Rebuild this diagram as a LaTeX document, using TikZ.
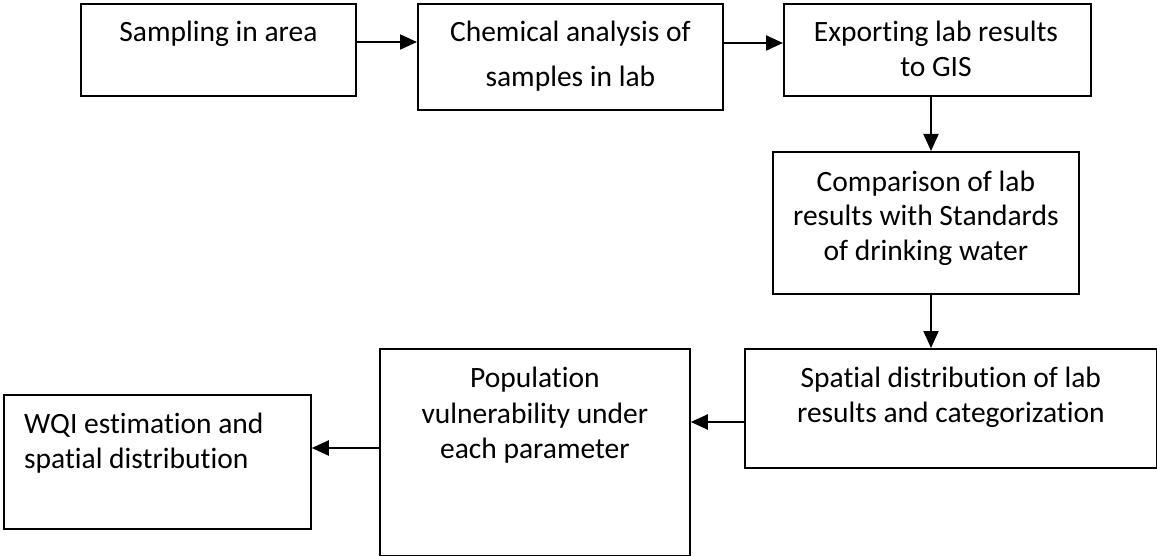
\documentclass[tikz,border=0pt]{standalone}
\usepackage{fontspec}
\setmainfont{Carlito}[Ligatures={NoCommon}]
\usetikzlibrary{arrows.meta}
\begin{document}
\begin{tikzpicture}[x=1pt,y=-1pt,
  box/.style={draw, line width=1.8pt, anchor=north west, inner sep=0pt},
  lbl/.style={anchor=base, inner sep=0pt, font=\fontsize{29.5}{35}\selectfont},
  lbll/.style={anchor=base west, inner sep=0pt, font=\fontsize{29.5}{35}\selectfont},
  arr/.style={line width=2.1pt, -{Triangle[length=17pt,width=15pt]}}]
\useasboundingbox (0,0) rectangle (1157,556);

% process boxes
\node[box, minimum width=275pt, minimum height=92pt]  (b1) at (80,3)   {};
\node[box, minimum width=305pt, minimum height=106pt] (b2) at (417,3)  {};
\node[box, minimum width=307pt, minimum height=92pt]  (b3) at (783,3)  {};
\node[box, minimum width=306pt, minimum height=142pt] (b4) at (772,151) {};
\node[box, minimum width=412pt, minimum height=119pt] (b5) at (744,348) {};
\node[box, minimum width=310pt, minimum height=207pt] (b6) at (379,348) {};
\node[box, minimum width=307pt, minimum height=134pt] (b7) at (3,394)  {};

% box texts
\node[lbl] (t1) at (b1.north |- 0,42) {Sampling in area};
\node[lbl] (t2a) at (b2.north |- 0,42) {Chemical analysis of};
\node[lbl] (t2b) at (b2.north |- 0,87) {samples in lab};
\node[lbl] (t3a) at (936,42) {Exporting lab results};
\node[lbl] (t3b) at (936,77) {to GIS};
\node[lbl] (t4a) at (b4.north |- 0,192) {Comparison of lab};
\node[lbl] (t4b) at (b4.north |- 0,226) {results with Standards};
\node[lbl] (t4c) at (b4.north |- 0,261) {of drinking water};
\node[lbl] (t5a) at (b5.north |- 0,387) {Spatial distribution of lab};
\node[lbl] (t5b) at (b5.north |- 0,422) {results and categorization};
\node[lbl] (t6a) at (b6.north |- 0,387) {Population};
\node[lbl] (t6b) at (b6.north |- 0,423) {vulnerability under};
\node[lbl] (t6c) at (b6.north |- 0,458) {each parameter};
\node[lbll] (t7a) at (24,433) {WQI estimation and};
\node[lbll] (t7b) at (24,468) {spatial distribution};

% connectors
\draw[arr] (b1.east |- 0,42) -- (b2.west |- 0,42);
\draw[arr] (b2.east |- 0,43) -- (b3.west |- 0,43);
\draw[arr] (b3.south -| 931,0) -- (b4.north -| 931,0);
\draw[arr] (b4.south -| 931,0) -- (b5.north -| 931,0);
\draw[arr] (b5.west |- 0,422) -- (b6.east |- 0,422);
\draw[arr] (b6.west |- 0,448) -- (b7.east |- 0,448);
\end{tikzpicture}
\end{document}
